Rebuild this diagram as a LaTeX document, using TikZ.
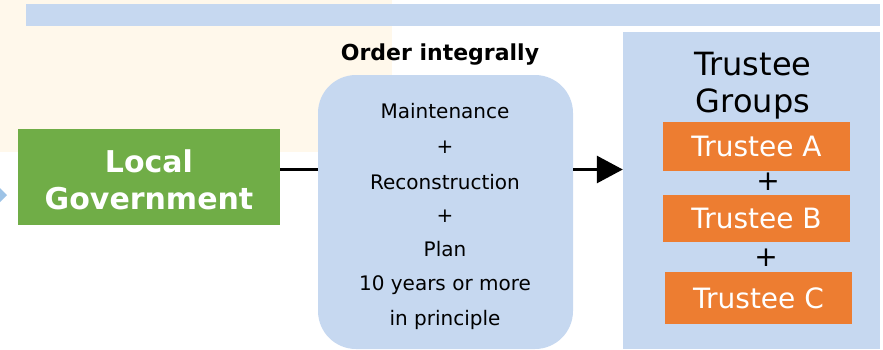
\documentclass[tikz,border=0pt]{standalone}
\usepackage{fontspec}
\setmainfont{DejaVu Sans}
\usetikzlibrary{arrows.meta,positioning}

\definecolor{creambg}{RGB}{255,248,235}
\definecolor{paleblue}{RGB}{198,216,240}
\definecolor{tipblue}{RGB}{157,195,230}
\definecolor{govgreen}{RGB}{112,173,71}
\definecolor{trustorange}{RGB}{237,125,49}

\tikzset{
  govbox/.style={fill=govgreen, text=white, font=\fontsize{30}{37}\selectfont\bfseries,
    minimum width=262pt, minimum height=96pt, align=center, inner sep=0pt},
  orderbox/.style={fill=paleblue, rounded corners=38pt, minimum width=255pt,
    minimum height=274pt, inner sep=0pt},
  groupbox/.style={fill=paleblue, minimum width=257pt, minimum height=317pt, inner sep=0pt},
  trustbox/.style={fill=trustorange, text=white, font=\fontsize{28}{32}\selectfont,
    minimum width=187pt, minimum height=49pt, inner sep=0pt},
  plain/.style={font=\fontsize{20}{24}\selectfont, inner sep=0pt},
  plusmark/.style={font=\fontsize{28}{30}\selectfont, inner sep=0pt},
  link/.style={line width=3pt},
  flow/.style={line width=3pt, -{Triangle[length=26pt,width=27pt]}}
}

\begin{document}
\begin{tikzpicture}[x=1pt,y=-1pt]
\useasboundingbox (0,0) rectangle (883,349);

% backdrop
\fill[creambg] (0,0) rectangle (392,152);
\fill[paleblue] (26,4) rectangle (880,26);
\fill[tipblue] (0,188) -- (7,195) -- (0,202) -- cycle;

% boxes
\node[govbox] (local) at (149,177) {};
\node[font=\fontsize{30}{37}\selectfont\bfseries, text=white, align=center] (govtext) at (149,180) {Local\\Government};
\node[orderbox] (order) at (445.5,212) {};
\node[font=\fontsize{22}{26}\selectfont\bfseries] (ordertitle) at (440,55) {Order integrally};
\node[groupbox] (groups) at (751.5,190.5) {};

% contents of the order
\node[plain] (maint) at (445,111) {Maintenance};
\node[plain] (plus1) at (445,147) {+};
\node[plain] (recon) at (445,182) {Reconstruction};
\node[plain] (plus2) at (445,216) {+};
\node[plain] (plan) at (445,249) {Plan};
\node[plain] (years) at (445,285) {10 years or more};
\node[plain] (princ) at (445,320) {in principle};

% trustees
\node[font=\fontsize{32}{37}\selectfont, align=center, inner sep=0pt] (grouptitle) at (753,86) {Trustee\\Groups};
\node[trustbox] (trA) at (756.5,146.5) {Trustee A};
\node[plusmark] (plusA) at (768,182) {+};
\node[trustbox, minimum height=47pt] (trB) at (756.5,218.5) {Trustee B};
\node[plusmark] (plusB) at (766,258) {+};
\node[trustbox, minimum height=52pt] (trC) at (758.5,298) {Trustee C};

% connectors
\coordinate (row) at (0,169.5);
\draw[link] (local.east |- row) -- (order.west |- row);
\draw[flow] (order.east |- row) -- (groups.west |- row);
\end{tikzpicture}
\end{document}
